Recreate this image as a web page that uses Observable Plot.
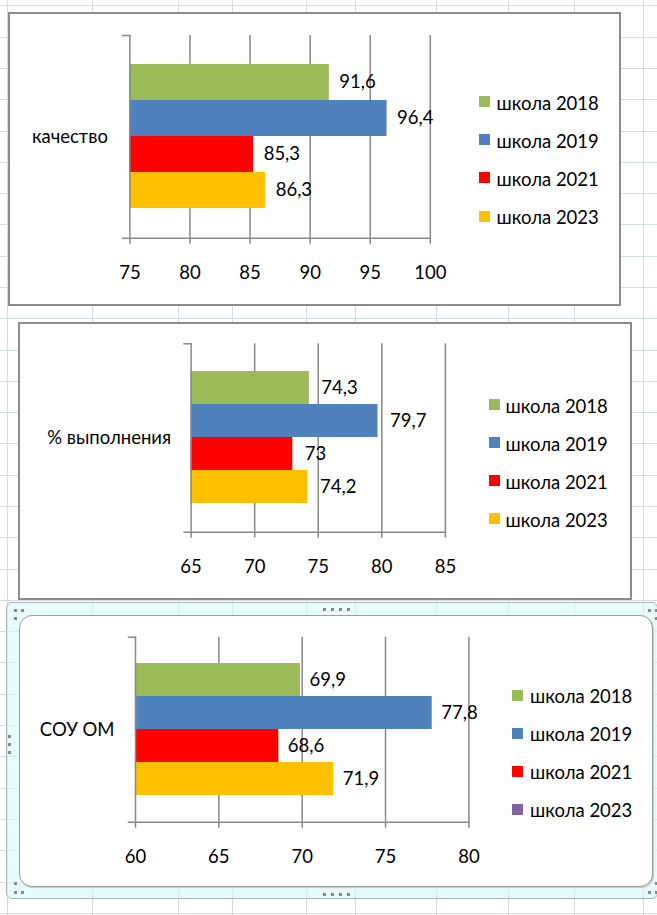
<!DOCTYPE html>
<html><head><meta charset="utf-8">
<script src="https://cdn.jsdelivr.net/npm/d3@7"></script>
<script src="https://cdn.jsdelivr.net/npm/@observablehq/plot@0.6"></script>
<style>
body{margin:0;background:#fff;font-family:Lato,sans-serif;}
#page{position:relative;width:657px;height:915px;overflow:hidden;background:#fff;}
.abs{position:absolute;box-sizing:border-box;}
.leg{position:absolute;font-size:18.5px;color:#000;white-space:nowrap;line-height:1;}
.leg span.sq{position:absolute;width:11px;height:11px;}
.dot{position:absolute;width:3px;height:3px;background:#8a8a8a;}
</style></head><body>
<div id="page"></div>
<script>
// ---- data ----
const series = ["школа 2018", "школа 2019", "школа 2021", "школа 2023"];
const barColors = ["#9BBB59", "#4F81BD", "#FF0000", "#FFC000"];
const legendColors1 = ["#9BBB59", "#4F81BD", "#FF0000", "#FFC000"];
const legendColors3 = ["#9BBB59", "#4F81BD", "#FF0000", "#8064A2"];

const category1 = ["качество"];
const values1 = [91.6, 96.4, 85.3, 86.3];
const ticks1 = [75, 80, 85, 90, 95, 100];

const category2 = ["% выполнения"];
const values2 = [74.3, 79.7, 73, 74.2];
const ticks2 = [65, 70, 75, 80, 85];

const category3 = ["СОУ ОМ"];
const values3 = [69.9, 77.8, 68.6, 71.9];
const ticks3 = [60, 65, 70, 75, 80];

// ---- page decoration (spreadsheet grid) ----
const page = document.getElementById("page");
function addDiv(cls, css, html) {
  const d = document.createElement("div");
  d.className = cls;
  d.style.cssText = css;
  if (html) d.innerHTML = html;
  page.appendChild(d);
  return d;
}
const gridCols = [7, 92, 178, 232, 306, 355, 436, 508, 574, 643];
const gridColor = "#d3dbe8";
for (const c of gridCols) addDiv("abs", `left:${c}px;top:0;width:1px;height:915px;background:${gridColor}`);
for (let k = 0; k < 30; k++) addDiv("abs", `left:0;top:${Math.round(5.4 + 31.29 * k)}px;width:657px;height:1px;background:${gridColor}`);

// chart frames
addDiv("abs", "left:8px;top:12px;width:613px;height:294px;background:#fff;border:2px solid #8c8c8c");
addDiv("abs", "left:18px;top:322px;width:614px;height:278px;background:#fff;border:2px solid #8c8c8c");
// selected chart: cyan selection band + rounded chart area
addDiv("abs", "left:6px;top:602px;width:652px;height:297px;background:rgba(215,248,248,0.6);border:1px solid #aab5be;border-radius:6px");
addDiv("abs", "left:19px;top:615px;width:634px;height:272px;background:#fff;border:1.5px solid #9c9c9c;border-radius:13px;box-shadow:1px 1px 1px #c8c8c8");
// selection handles
const dots = [[323,608],[331,608],[339,608],[347,608],[323,893],[331,893],[339,893],[347,893],
  [14,609],[21,609],[14,617],[14,882],[14,891],[21,891],[8,735],[8,743],[8,751],
  [648,609],[655,609],[655,617],[655,882],[655,891],[648,891]];
for (const [x, y] of dots) addDiv("dot", `left:${x}px;top:${y}px`);

// ---- charts ----
const fs = 18.5;
const axisColor = "#878787";
const fmt = v => String(v).replace(".", ",");

function drawChart(o) {
  const data = series.map((s, i) => ({series: s, value: o.values[i]}));
  const xmin = o.ticks[0], xmax = o.ticks[o.ticks.length - 1];
  const plotW = 657 - o.mL - o.mR;
  const svg = Plot.plot({
    width: 657,
    height: o.height,
    marginTop: o.mT, marginBottom: o.mB, marginLeft: o.mL, marginRight: o.mR,
    style: {background: "transparent", fontFamily: "Lato, sans-serif", fontSize: fs + "px", color: "#000", overflow: "visible"},
    x: {domain: [xmin, xmax], axis: null, label: null},
    y: {domain: series, paddingInner: 0, paddingOuter: o.pad, axis: null, label: null},
    color: {domain: series, range: barColors},
    marks: [
      Plot.ruleX(o.ticks.slice(1), {stroke: axisColor, strokeWidth: 1.5}),
      Plot.barX(data, {y: "series", x1: xmin, x2: "value", fill: "series"}),
      Plot.ruleX([xmin], {stroke: axisColor, strokeWidth: 1.5}),
      Plot.frame({anchor: "bottom", stroke: axisColor, strokeWidth: 1.5, insetLeft: -7}),
      Plot.frame({anchor: "top", stroke: axisColor, strokeWidth: 1.5, insetLeft: -7, insetRight: plotW}),
      Plot.axisX(o.ticks, {tickSize: 6, tickPadding: 21.5, fontSize: fs, stroke: axisColor, strokeWidth: 1.5, fill: "#000", label: null}),
      Plot.text(data, {x: "value", y: "series", text: d => fmt(d.value), textAnchor: "start", dx: o.labelDx, fontSize: fs, fill: "#000"}),
      Plot.text(o.category, {frameAnchor: "left", text: d => d, textAnchor: "end", dx: o.catDx, fontSize: fs, fill: "#000"})
    ]
  });
  svg.style.position = "absolute";
  svg.style.left = "0px";
  svg.style.top = o.top + "px";
  page.appendChild(svg);
  // legend
  series.forEach((s, i) => {
    const y = o.legY + i * o.legStep;
    addDiv("leg", `left:${o.legX}px;top:${y - 9}px;height:18px;padding-left:${o.legGap}px`,
      `<span class="sq" style="left:0;top:${3.5}px;background:${o.legColors[i]}"></span><span style="position:relative;top:1px">${s}</span>`);
  });
}

drawChart({category: category1, values: values1, ticks: ticks1, top: 0, height: 300,
  mT: 35, mB: 62.3, mL: 129.4, mR: 227.2, pad: 0.79, labelDx: 10, catDx: -22,
  legX: 479, legY: 101.5, legStep: 38.2, legGap: 17.5, legColors: legendColors1});
drawChart({category: category2, values: values2, ticks: ticks2, top: 310, height: 290,
  mT: 33.3, mB: 68.3, mL: 190.6, mR: 212.1, pad: 0.78, labelDx: 12, catDx: -20,
  legX: 489, legY: 404.5, legStep: 38.0, legGap: 16.5, legColors: legendColors1});
drawChart({category: category3, values: values3, ticks: ticks3, top: 600, height: 290,
  mT: 36.7, mB: 68.3, mL: 135, mR: 188.6, pad: 0.795, labelDx: 9, catDx: -21,
  legX: 512, legY: 695, legStep: 38.0, legGap: 18, legColors: legendColors3});
</script>
</body></html>
